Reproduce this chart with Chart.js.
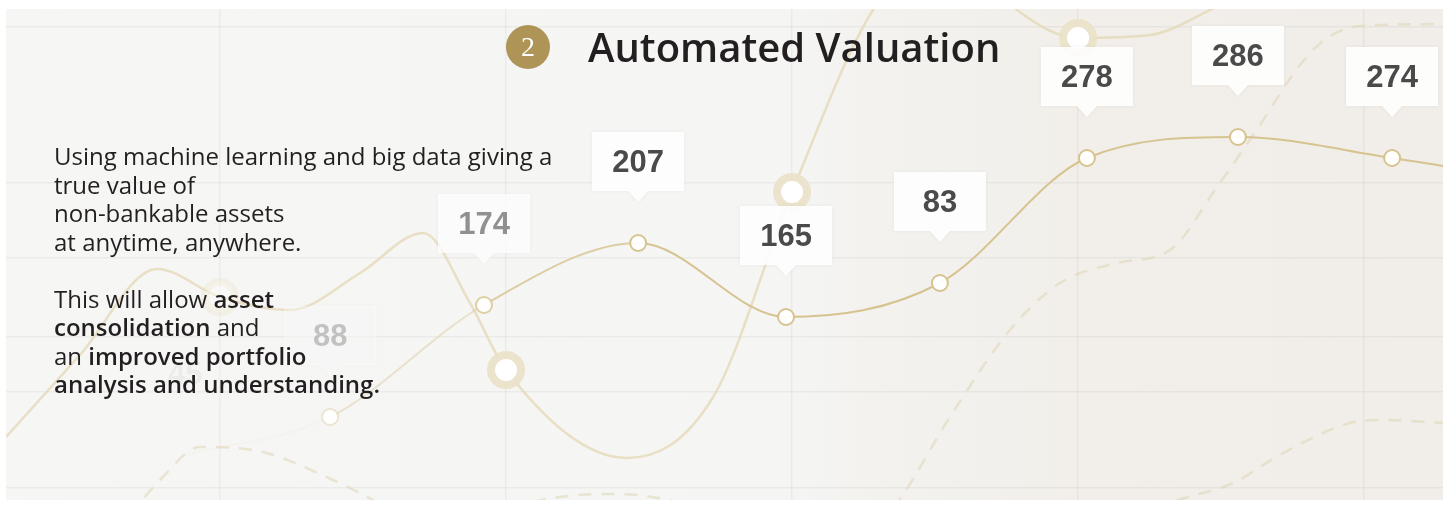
<!DOCTYPE html>
<html>
<head>
<meta charset="utf-8">
<script src="https://cdn.jsdelivr.net/npm/chart.js@4.4.1/dist/chart.umd.min.js"></script>
<style>
  html, body { margin: 0; padding: 0; background: #ffffff; }
  body { width: 1451px; height: 507px; position: relative; overflow: hidden; font-family: "Open Sans", sans-serif; color: #231f20; }
  #panel {
    position: absolute; left: 6px; top: 9px; width: 1437px; height: 491px;
    background: linear-gradient(90deg, #f6f6f5 0%, #f5f5f4 54%, #f3f2ef 60%, #f2efea 75%, #f1eee9 100%);
  }
  #panel canvas { position: absolute; left: 0; top: 0; filter: blur(0.4px); }
  .badge {
    position: absolute; left: 506px; top: 25px; width: 44px; height: 44px; border-radius: 50%;
    background: #ae9557; color: #fff; font-family: "Liberation Serif", "DejaVu Serif", serif;
    font-size: 28px; line-height: 44px; text-align: center;
  }
  .title { position: absolute; left: 588px; top: 22px; font-size: 40px; font-weight: 600; line-height: 50px; white-space: nowrap; }
  .copy { position: absolute; left: 54px; top: 142px; font-size: 24px; line-height: 28.5px; white-space: nowrap; }
  .copy b { font-weight: 600; }
</style>
</head>
<body>
<div id="panel"><canvas id="valuationChart" width="1437" height="491"></canvas></div>
<div class="badge">2</div>
<div class="title">Automated Valuation</div>
<div class="copy">
  Using machine learning and big data giving a<br>
  true value of<br>
  non-bankable assets<br>
  at anytime, anywhere.<br>
  <br>
  This will allow <b>asset</b><br>
  <b>consolidation</b> and<br>
  an <b>improved portfolio</b><br>
  <b>analysis and understanding.</b>
</div>
<script>
// grid positions (x in column units, y in level units)
const gridColumns = [1, 2, 3, 4, 5];
const gridLevels = [12, 108, 163, 242, 317, 473];

// main series: white dots with value tags
const mainX = [0.878, 1.385, 1.923, 2.462, 2.979, 3.517, 4.031, 4.559, 5.098, 5.276];
const mainLevels = [45, 83, 195, 257, 183, 217, 342, 363, 342, 334];
const tagLabels = ["45", "88", "174", "207", "165", "83", "278", "286", "274", null];

// background curve with ring markers on the grid columns
const curveX = [0.252, 0.51, 0.78, 1, 1.245, 1.49, 1.71, 1.874, 2, 2.423, 2.724, 3, 3.283, 3.552, 3.787, 4, 4.252, 4.462, 4.776, 5.276];
const curveLevels = [63, 145, 231, 203, 190, 227, 267, 197, 130, 42, 103, 308, 490, 560, 490, 462, 465, 490, 540, 560];

// dashed background curves
const dashAX = [0.685, 0.79, 0.93, 1.115, 1.395, 1.594, 1.699];
const dashALevels = [-15, 20, 53, 50, 20, -10, -30];
const dashBX = [1.874, 2.084, 2.374, 2.608, 2.818];
const dashBLevels = [-30, -3, 6, -3, -30];
const dashCX = [3.238, 3.367, 3.552, 3.762, 3.937, 4.136, 4.322, 4.486, 4.636, 4.776, 4.871, 4.986, 5.276];
const dashCLevels = [-40, -3, 83, 170, 217, 237, 250, 313, 375, 435, 462, 474, 476];
const dashDX = [4.147, 4.297, 4.542, 4.717, 4.951, 5.066, 5.276];
const dashDLevels = [-40, -7, 17, 47, 77, 80, 77];

function pairs(xs, ys) {
    return xs.map((x, i) => ({ x: x, y: ys[i] }));
}

const gold = "rgba(214, 195, 143, 1)";
const tagAlpha = [0.06, 0.3, 0.6, 1, 1, 1, 1, 1, 1, 0];
const mainPointAlpha = [0, 0.4, 0.8, 1, 1, 1, 1, 1, 1, 0];

function dashed(xs, ys) {
    return {
        data: pairs(xs, ys),
        borderColor: "rgba(222, 210, 176, 0.5)",
        borderWidth: 2.5,
        borderDash: [13, 10],
        pointRadius: 0,
        cubicInterpolationMode: "monotone",
        order: 5
    };
}

const tagPlugin = {
    id: "tags",
    afterDatasetsDraw(chart) {
        const ctx = chart.ctx;
        const meta = chart.getDatasetMeta(0);
        meta.data.forEach((pt, i) => {
            const text = tagLabels[i];
            if (!text) return;
            const a = tagAlpha[i];
            const x = pt.x, y = pt.y;
            const w = 92, top = y - 111, bottom = y - 52, tip = y - 41;
            ctx.save();
            ctx.globalAlpha = Math.min(1, a * 1.4);
            ctx.shadowColor = "rgba(0, 0, 0, 0.06)";
            ctx.shadowBlur = 4;
            ctx.fillStyle = "rgba(255, 255, 255, 0.9)";
            ctx.beginPath();
            ctx.moveTo(x - w / 2, top);
            ctx.lineTo(x + w / 2, top);
            ctx.lineTo(x + w / 2, bottom);
            ctx.lineTo(x + 10, bottom);
            ctx.lineTo(x, tip);
            ctx.lineTo(x - 10, bottom);
            ctx.lineTo(x - w / 2, bottom);
            ctx.closePath();
            ctx.fill();
            ctx.shadowColor = "transparent";
            ctx.globalAlpha = a;
            ctx.fillStyle = "#4a4a4a";
            ctx.font = 'bold 31px "Liberation Sans", Arial, sans-serif';
            ctx.textAlign = "center";
            ctx.textBaseline = "middle";
            ctx.fillText(text, x, y - 80);
            ctx.restore();
        });
    }
};

const ctx = document.getElementById("valuationChart").getContext("2d");

new Chart(ctx, {
    type: "line",
    data: {
        datasets: [
            {
                data: pairs(mainX, mainLevels),
                borderColor: gold,
                borderWidth: 2,
                cubicInterpolationMode: "monotone",
                pointRadius: mainPointAlpha.map(a => (a > 0 ? 8 : 0)),
                pointBorderWidth: 2,
                pointBackgroundColor: "rgba(255, 255, 255, 0.95)",
                pointBorderColor: mainPointAlpha.map(a => `rgba(214, 195, 143, ${a})`),
                segment: {
                    borderColor: c => `rgba(214, 195, 143, ${Math.max(0.05, mainPointAlpha[c.p0DataIndex])})`
                },
                order: 1
            },
            {
                data: pairs(curveX, curveLevels),
                borderColor: "rgba(224, 211, 170, 0.65)",
                borderWidth: 2.5,
                cubicInterpolationMode: "monotone",
                pointRadius: curveX.map(x => (Number.isInteger(x) ? 15 : 0)),
                pointBorderWidth: 8,
                pointBackgroundColor: curveX.map(x => (x === 1 ? "rgba(255, 255, 255, 0.4)" : "#ffffff")),
                pointBorderColor: curveX.map(x => (x === 1 ? "rgba(234, 226, 200, 0.35)" : "rgba(234, 226, 200, 0.95)")),
                order: 3
            },
            dashed(dashAX, dashALevels),
            dashed(dashBX, dashBLevels),
            dashed(dashCX, dashCLevels),
            dashed(dashDX, dashDLevels)
        ]
    },
    options: {
        responsive: false,
        animation: false,
        layout: { padding: 0, autoPadding: false },
        plugins: {
            legend: { display: false },
            tooltip: { enabled: false }
        },
        scales: {
            x: {
                type: "linear",
                min: 0.2517,
                max: 5.276,
                afterBuildTicks: s => { s.ticks = gridColumns.map(v => ({ value: v })); },
                ticks: { display: false },
                border: { display: false },
                grid: { color: "rgba(0, 0, 0, 0.045)", lineWidth: 1.5, drawTicks: false }
            },
            y: {
                type: "linear",
                min: 0,
                max: 491,
                afterBuildTicks: s => { s.ticks = gridLevels.map(v => ({ value: v })); },
                ticks: { display: false },
                border: { display: false },
                grid: { color: "rgba(0, 0, 0, 0.045)", lineWidth: 1.5, drawTicks: false }
            }
        }
    },
    plugins: [tagPlugin]
});
</script>
</body>
</html>
